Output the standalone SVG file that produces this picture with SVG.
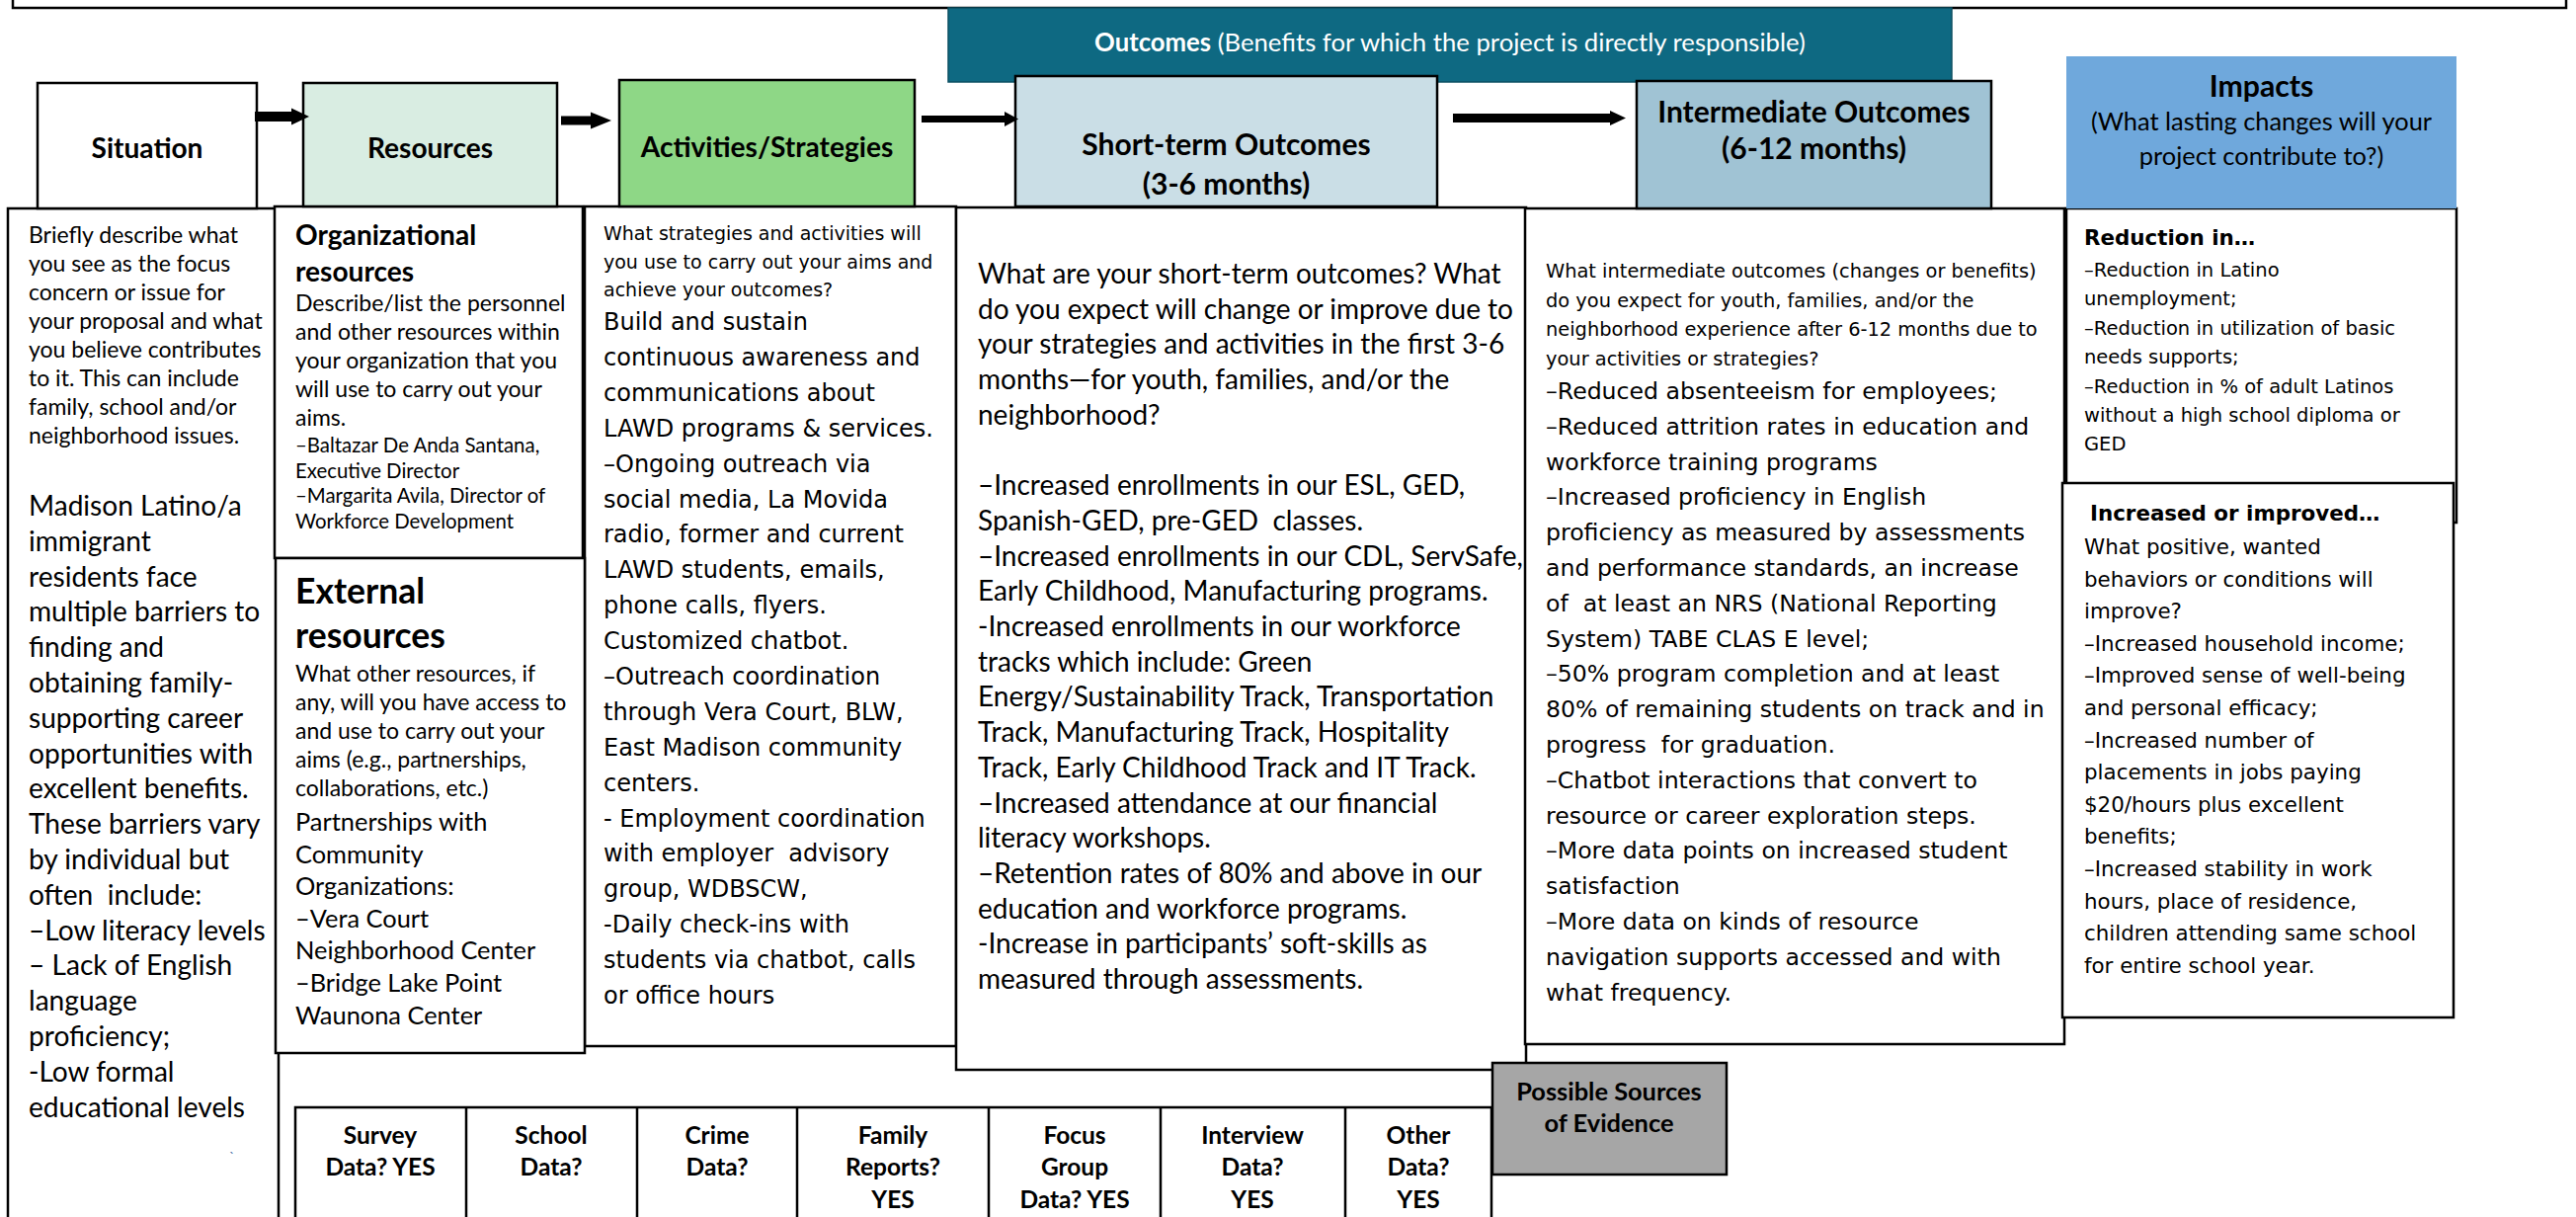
<svg xmlns="http://www.w3.org/2000/svg" width="2608" height="1232" viewBox="0 0 2608 1232">
<style>
.c{font-family:Lato,"Liberation Sans",sans-serif}
.v{font-family:"DejaVu Sans",Verdana,sans-serif}
.b{font-weight:bold}
.m{text-anchor:middle}
.box{fill:#fff;stroke:#000;stroke-width:2.5}
.hd{stroke:#000;stroke-width:2.5}
.arrow{fill:#000}
</style>
<rect x="13" y="-20" width="2585" height="28" fill="#fff" stroke="#000" stroke-width="2.5"/>

<!-- detail boxes -->
<g id="situation-detail">
<rect class="box" x="8" y="211" width="274" height="1040"/>
<text class="c" font-size="23" x="29" y="246"><tspan x="29">Briefly describe what</tspan><tspan x="29" dy="29">you see as the focus</tspan><tspan x="29" dy="29">concern or issue for</tspan><tspan x="29" dy="29">your proposal and what</tspan><tspan x="29" dy="29">you believe contributes</tspan><tspan x="29" dy="29">to it. This can include</tspan><tspan x="29" dy="29">family, school and/or</tspan><tspan x="29" dy="29">neighborhood issues.</tspan></text>
<text class="c" font-size="28.1" x="29" y="522" xml:space="preserve"><tspan x="29">Madison Latino/a</tspan><tspan x="29" dy="35.8">immigrant</tspan><tspan x="29" dy="35.8">residents face</tspan><tspan x="29" dy="35.8">multiple barriers to</tspan><tspan x="29" dy="35.8">finding and</tspan><tspan x="29" dy="35.8">obtaining family-</tspan><tspan x="29" dy="35.8">supporting career</tspan><tspan x="29" dy="35.8">opportunities with</tspan><tspan x="29" dy="35.8">excellent benefits.</tspan><tspan x="29" dy="35.8">These barriers vary</tspan><tspan x="29" dy="35.8">by individual but</tspan><tspan x="29" dy="35.8">often  include:</tspan><tspan x="29" dy="35.8">–Low literacy levels</tspan><tspan x="29" dy="35.8">– Lack of English</tspan><tspan x="29" dy="35.8">language</tspan><tspan x="29" dy="35.8">proficiency;</tspan><tspan x="29" dy="35.8">-Low formal</tspan><tspan x="29" dy="35.8">educational levels</tspan></text>
<text class="c" font-size="14" x="232" y="1176" fill="#4a6fa5">`</text>
</g>

<g id="activities-detail">
<rect class="box" x="592" y="209" width="376" height="850"/>
<text class="v" font-size="19" x="611" y="243"><tspan x="611">What strategies and activities will</tspan><tspan x="611" dy="28.5">you use to carry out your aims and</tspan><tspan x="611" dy="28.5">achieve your outcomes?</tspan></text>
<text class="v" font-size="24" x="611" y="334" xml:space="preserve"><tspan x="611">Build and sustain</tspan><tspan x="611" dy="35.9">continuous awareness and</tspan><tspan x="611" dy="35.9">communications about</tspan><tspan x="611" dy="35.9">LAWD programs &amp; services.</tspan><tspan x="611" dy="35.9">–Ongoing outreach via</tspan><tspan x="611" dy="35.9">social media, La Movida</tspan><tspan x="611" dy="35.9">radio, former and current</tspan><tspan x="611" dy="35.9">LAWD students, emails,</tspan><tspan x="611" dy="35.9">phone calls, flyers.</tspan><tspan x="611" dy="35.9">Customized chatbot.</tspan><tspan x="611" dy="35.9">–Outreach coordination</tspan><tspan x="611" dy="35.9">through Vera Court, BLW,</tspan><tspan x="611" dy="35.9">East Madison community</tspan><tspan x="611" dy="35.9">centers.</tspan><tspan x="611" dy="35.9">- Employment coordination</tspan><tspan x="611" dy="35.9">with employer  advisory</tspan><tspan x="611" dy="35.9">group, WDBSCW,</tspan><tspan x="611" dy="35.9">-Daily check-ins with</tspan><tspan x="611" dy="35.9">students via chatbot, calls</tspan><tspan x="611" dy="35.9">or office hours</tspan></text>
</g>

<g id="short-term-detail">
<rect class="box" x="968" y="210" width="577" height="873"/>
<text class="c" font-size="28" x="990" y="287" xml:space="preserve"><tspan x="990">What are your short-term outcomes? What</tspan><tspan x="990" dy="35.7">do you expect will change or improve due to</tspan><tspan x="990" dy="35.7">your strategies and activities in the first 3-6</tspan><tspan x="990" dy="35.7">months—for youth, families, and/or the</tspan><tspan x="990" dy="35.7">neighborhood?</tspan><tspan x="990" dy="71.4">–Increased enrollments in our ESL, GED,</tspan><tspan x="990" dy="35.7">Spanish-GED, pre-GED  classes.</tspan><tspan x="990" dy="35.7">–Increased enrollments in our CDL, ServSafe,</tspan><tspan x="990" dy="35.7">Early Childhood, Manufacturing programs.</tspan><tspan x="990" dy="35.7">-Increased enrollments in our workforce</tspan><tspan x="990" dy="35.7">tracks which include: Green</tspan><tspan x="990" dy="35.7">Energy/Sustainability Track, Transportation</tspan><tspan x="990" dy="35.7">Track, Manufacturing Track, Hospitality</tspan><tspan x="990" dy="35.7">Track, Early Childhood Track and IT Track.</tspan><tspan x="990" dy="35.7">–Increased attendance at our financial</tspan><tspan x="990" dy="35.7">literacy workshops.</tspan><tspan x="990" dy="35.7">–Retention rates of 80% and above in our</tspan><tspan x="990" dy="35.7">education and workforce programs.</tspan><tspan x="990" dy="35.7">-Increase in participants’ soft-skills as</tspan><tspan x="990" dy="35.7">measured through assessments.</tspan></text>
</g>

<g id="intermediate-detail">
<rect class="box" x="1544" y="211" width="546" height="846"/>
<text class="v" font-size="19.4" x="1565" y="281"><tspan x="1565">What intermediate outcomes (changes or benefits)</tspan><tspan x="1565" dy="29.6">do you expect for youth, families, and/or the</tspan><tspan x="1565" dy="29.6">neighborhood experience after 6-12 months due to</tspan><tspan x="1565" dy="29.6">your activities or strategies?</tspan></text>
<text class="v" font-size="23.6" x="1565" y="404" xml:space="preserve"><tspan x="1565">–Reduced absenteeism for employees;</tspan><tspan x="1565" dy="35.8">–Reduced attrition rates in education and</tspan><tspan x="1565" dy="35.8">workforce training programs</tspan><tspan x="1565" dy="35.8">–Increased proficiency in English</tspan><tspan x="1565" dy="35.8">proficiency as measured by assessments</tspan><tspan x="1565" dy="35.8">and performance standards, an increase</tspan><tspan x="1565" dy="35.8">of  at least an NRS (National Reporting</tspan><tspan x="1565" dy="35.8">System) TABE CLAS E level;</tspan><tspan x="1565" dy="35.8">–50% program completion and at least</tspan><tspan x="1565" dy="35.8">80% of remaining students on track and in</tspan><tspan x="1565" dy="35.8">progress  for graduation.</tspan><tspan x="1565" dy="35.8">–Chatbot interactions that convert to</tspan><tspan x="1565" dy="35.8">resource or career exploration steps.</tspan><tspan x="1565" dy="35.8">–More data points on increased student</tspan><tspan x="1565" dy="35.8">satisfaction</tspan><tspan x="1565" dy="35.8">–More data on kinds of resource</tspan><tspan x="1565" dy="35.8">navigation supports accessed and with</tspan><tspan x="1565" dy="35.8">what frequency.</tspan></text>
</g>

<g id="resources-organizational">
<rect class="box" x="278" y="209" width="312" height="356"/>
<text class="c b" font-size="28.1" x="299" y="248"><tspan x="299">Organizational</tspan><tspan x="299" dy="37">resources</tspan></text>
<text class="c" font-size="23" x="299" y="315"><tspan x="299">Describe/list the personnel</tspan><tspan x="299" dy="29">and other resources within</tspan><tspan x="299" dy="29">your organization that you</tspan><tspan x="299" dy="29">will use to carry out your</tspan><tspan x="299" dy="29">aims.</tspan></text>
<text class="c" font-size="20.4" x="299" y="458"><tspan x="299">–Baltazar De Anda Santana,</tspan><tspan x="299" dy="25.7">Executive Director</tspan><tspan x="299" dy="25.7">–Margarita Avila, Director of</tspan><tspan x="299" dy="25.7">Workforce Development</tspan></text>
</g>

<g id="resources-external">
<rect class="box" x="279" y="565" width="313" height="501"/>
<text class="c b" font-size="35.5" x="299" y="611"><tspan x="299">External</tspan><tspan x="299" dy="45">resources</tspan></text>
<text class="c" font-size="23" x="299" y="690"><tspan x="299">What other resources, if</tspan><tspan x="299" dy="29">any, will you have access to</tspan><tspan x="299" dy="29">and use to carry out your</tspan><tspan x="299" dy="29">aims (e.g., partnerships,</tspan><tspan x="299" dy="29">collaborations, etc.)</tspan></text>
<text class="c" font-size="25.4" x="299" y="841"><tspan x="299">Partnerships with</tspan><tspan x="299" dy="32.6">Community</tspan><tspan x="299" dy="32.6">Organizations:</tspan><tspan x="299" dy="32.6">–Vera Court</tspan><tspan x="299" dy="32.6">Neighborhood Center</tspan><tspan x="299" dy="32.6">–Bridge Lake Point</tspan><tspan x="299" dy="32.6">Waunona Center</tspan></text>
</g>

<g id="impacts-reduction">
<rect class="box" x="2092" y="211" width="395" height="318"/>
<text class="v b" font-size="21.4" x="2110" y="248">Reduction in…</text>
<text class="v" font-size="19.5" x="2110" y="280"><tspan x="2110">–Reduction in Latino</tspan><tspan x="2110" dy="29.4">unemployment;</tspan><tspan x="2110" dy="29.4">–Reduction in utilization of basic</tspan><tspan x="2110" dy="29.4">needs supports;</tspan><tspan x="2110" dy="29.4">–Reduction in % of adult Latinos</tspan><tspan x="2110" dy="29.4">without a high school diploma or</tspan><tspan x="2110" dy="29.4">GED</tspan></text>
</g>

<g id="impacts-increased">
<rect class="box" x="2088" y="489" width="396" height="541"/>
<text class="v b" font-size="21.4" x="2116" y="527">Increased or improved…</text>
<text class="v" font-size="21.4" x="2110" y="561"><tspan x="2110">What positive, wanted</tspan><tspan x="2110" dy="32.6">behaviors or conditions will</tspan><tspan x="2110" dy="32.6">improve?</tspan><tspan x="2110" dy="32.6">–Increased household income;</tspan><tspan x="2110" dy="32.6">–Improved sense of well-being</tspan><tspan x="2110" dy="32.6">and personal efficacy;</tspan><tspan x="2110" dy="32.6">–Increased number of</tspan><tspan x="2110" dy="32.6">placements in jobs paying</tspan><tspan x="2110" dy="32.6">$20/hours plus excellent</tspan><tspan x="2110" dy="32.6">benefits;</tspan><tspan x="2110" dy="32.6">–Increased stability in work</tspan><tspan x="2110" dy="32.6">hours, place of residence,</tspan><tspan x="2110" dy="32.6">children attending same school</tspan><tspan x="2110" dy="32.6">for entire school year.</tspan></text>
</g>

<g id="evidence-table">
<rect class="box" x="299" y="1121" width="1211" height="130"/>
<path d="M472 1121V1240M645 1121V1240M807 1121V1240M1001 1121V1240M1175 1121V1240M1362 1121V1240" stroke="#000" stroke-width="2.5"/>
<g class="c b m" font-size="24.5">
<text x="385" y="1158">Survey</text><text x="385" y="1190">Data? YES</text>
<text x="558" y="1158">School</text><text x="558" y="1190">Data?</text>
<text x="726" y="1158">Crime</text><text x="726" y="1190">Data?</text>
<text x="904" y="1158">Family</text><text x="904" y="1190">Reports?</text><text x="904" y="1223">YES</text>
<text x="1088" y="1158">Focus</text><text x="1088" y="1190">Group</text><text x="1088" y="1223">Data? YES</text>
<text x="1268" y="1158">Interview</text><text x="1268" y="1190">Data?</text><text x="1268" y="1223">YES</text>
<text x="1436" y="1158">Other</text><text x="1436" y="1190">Data?</text><text x="1436" y="1223">YES</text>
</g>
</g>

<g id="possible-sources">
<rect x="1511" y="1076" width="237" height="113" fill="#a6a6a6" stroke="#000" stroke-width="2.5"/>
<text class="c b m" font-size="25.4" x="1629" y="1114">Possible Sources</text>
<text class="c b m" font-size="25.4" x="1629" y="1146">of Evidence</text>
</g>

<!-- header row -->
<g id="outcomes-banner">
<rect x="960" y="8" width="1016" height="75" fill="#0e6982" stroke="#0b4f62" stroke-width="1.5"/>
<text class="c m" font-size="25.7" x="1468" y="52" fill="#fff"><tspan class="b">Outcomes</tspan> (Benefits for which the project is directly responsible)</text>
</g>
<g id="situation">
<rect class="hd" x="38" y="84" width="222" height="127" fill="#fff"/>
<text class="c b m" font-size="28.1" x="149" y="160">Situation</text>
</g>
<g id="resources">
<rect class="hd" x="307" y="84" width="257" height="125" fill="#d9ede2"/>
<text class="c b m" font-size="28.1" x="435.5" y="160">Resources</text>
</g>
<g id="activities">
<rect class="hd" x="627" y="81" width="299" height="128" fill="#8ed786"/>
<text class="c b m" font-size="28.1" x="776.5" y="159">Activities/Strategies</text>
</g>
<g id="short-term">
<rect class="hd" x="1028" y="77" width="427" height="132" fill="#cadee6"/>
<text class="c b m" font-size="30" x="1241.5" y="157">Short-term Outcomes</text>
<text class="c b m" font-size="30" x="1241.5" y="197">(3-6 months)</text>
</g>
<g id="intermediate">
<rect class="hd" x="1657" y="82" width="359" height="129" fill="#a0c3d4"/>
<text class="c b m" font-size="30" x="1836.5" y="124">Intermediate Outcomes</text>
<text class="c b m" font-size="30" x="1836.5" y="161">(6-12 months)</text>
</g>
<g id="impacts">
<rect x="2092" y="57" width="395" height="154" fill="#6fa8dc"/>
<text class="c b m" font-size="30.2" x="2289.5" y="98">Impacts</text>
<text class="c m" font-size="25.4" x="2289.5" y="132">(What lasting changes will your</text>
<text class="c m" font-size="25.4" x="2289.5" y="167">project contribute to?)</text>
</g>

<g id="connectors">
<path class="arrow" d="M258 113H295V109.5L313 118L295 126.5V123H258Z"/>
<path class="arrow" d="M568 117.5H598V113.5L619 122L598 130.5V126.5H568Z"/>
<path class="arrow" d="M933 117H1017V113L1031 120.5L1017 128V124H933Z"/>
<path class="arrow" d="M1471 115H1630V112L1646 119.5L1630 127V124H1471Z"/>
</g>
</svg>
